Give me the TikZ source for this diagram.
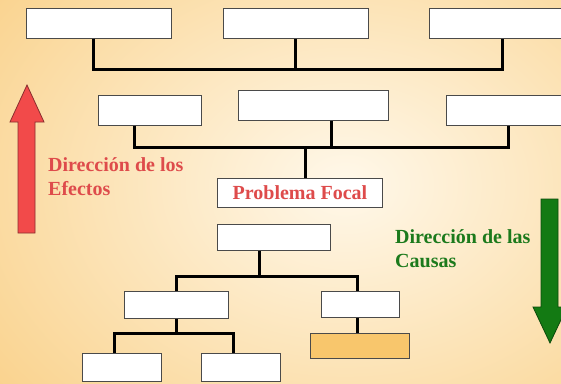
\documentclass[tikz,border=0pt]{standalone}
\usepackage{fontspec}
\setmainfont{Liberation Serif}
\definecolor{bgorange}{HTML}{F7C264}
\definecolor{bgcream}{HTML}{FFF8EA}
\definecolor{boxline}{HTML}{4A4A4A}
\definecolor{redtext}{HTML}{DE4B4B}
\definecolor{greentext}{HTML}{1C7A1C}
\definecolor{redfill}{HTML}{F24A4A}
\definecolor{redline}{HTML}{8A2E2E}
\definecolor{greenfill}{HTML}{137A13}
\definecolor{greenline}{HTML}{0B4A0B}
\definecolor{orangebox}{HTML}{F8C66C}
\begin{document}
\begin{tikzpicture}[x=1pt,y=-1pt,
  box/.style={draw=boxline,fill=white,line width=0.9pt,inner sep=0pt,anchor=north west},
  conn/.style={line width=3pt,black,line join=miter},
  lbl/.style={font=\bfseries\fontsize{20}{24}\selectfont,align=left,inner sep=0pt,anchor=base west}]
\useasboundingbox (0,0) rectangle (561,383);
\clip (0,0) rectangle (561,383);
\fill[bgorange] (0,0) rectangle (561,383);
\shade[inner color=bgcream,outer color=bgorange] (345,185) ellipse [x radius=640,y radius=480];

% top row (effects)
\node[box,minimum width=145pt,minimum height=30pt] (A) at (26,8) {};
\node[box,minimum width=145pt,minimum height=30pt] (B) at (223,8) {};
\node[box,minimum width=141pt,minimum height=30pt] (C) at (429,8) {};
% second row
\node[box,minimum width=103pt,minimum height=30pt] (D) at (98,95) {};
\node[box,minimum width=150pt,minimum height=30pt] (E) at (238,90) {};
\node[box,minimum width=124pt,minimum height=30pt] (F) at (446,95) {};
% focal problem
\node[box,minimum width=165pt,minimum height=29pt,text=redtext,font=\bfseries\fontsize{20}{24}\selectfont] (PF) at (217,178) {Problema Focal};
% causes
\node[box,minimum width=113pt,minimum height=26pt] (G) at (217,224) {};
\node[box,minimum width=104pt,minimum height=27pt] (H) at (124,291) {};
\node[box,minimum width=78pt,minimum height=26pt] (I) at (321,291) {};
\node[box,minimum width=79pt,minimum height=28pt] (J) at (82,353) {};
\node[box,minimum width=79pt,minimum height=28pt] (K) at (201,353) {};
\node[box,fill=orangebox,minimum width=99pt,minimum height=25pt] (L) at (310,333) {};

% bar levels
\coordinate (barT) at (0,69);
\coordinate (barM) at (0,147);
\coordinate (barC) at (0,276);
\coordinate (barD) at (0,333);

\draw[conn] ([xshift=-5.5pt]A.south) |- ([xshift=2.5pt]C.south |- barT) -- ([xshift=2.5pt]C.south);
\draw[conn] (B.south) -- (B.south |- barT);

\draw[conn] ([xshift=-15.5pt]D.south) |- (F.south |- barM) -- (F.south);
\draw[conn] ([xshift=18pt]E.south) -- ([xshift=18pt]E.south |- barM);
\draw[conn] ([xshift=5.5pt]PF.north) -- ([xshift=5.5pt]PF.north |- barM);

\draw[conn] ([xshift=-14.5pt]G.south) -- ([xshift=-14.5pt]G.south |- barC);
\draw[conn] (H.north) |- ([xshift=-3pt]I.north |- barC) -- ([xshift=-3pt]I.north);
\draw[conn] (H.south) -- (H.south |- barD);
\draw[conn] ([xshift=-7.5pt]J.north) |- ([xshift=-7.5pt]K.north |- barD) -- ([xshift=-7.5pt]K.north);
\draw[conn] ([xshift=-3pt]I.south) -- ([xshift=-2.5pt]L.north);

% direction arrows
\filldraw[fill=redfill,draw=redline,line width=0.8pt,line join=miter]
  (18,233) -- (18,122) -- (10,122) -- (27,85) -- (44,122) -- (35,122) -- (35,233) -- cycle;
\filldraw[fill=greenfill,draw=greenline,line width=0.8pt,line join=miter]
  (541,199) -- (558,199) -- (558,307) -- (567,307) -- (550,343) -- (533,307) -- (541,307) -- cycle;

% labels (base anchor = baseline of the last line)
\node[lbl,text=redtext] (efectos) at (48,195.5) {Dirección de los\\Efectos};
\node[lbl,text=greentext] (causas) at (395,267.5) {Dirección de las\\Causas};
\end{tikzpicture}
\end{document}
